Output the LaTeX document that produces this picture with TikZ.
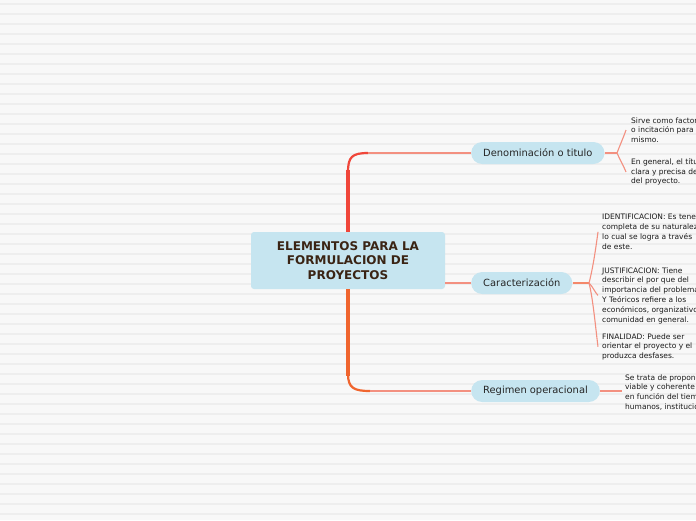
\documentclass[tikz,border=0pt]{standalone}
\usepackage{fontspec}
\setmainfont{DejaVu Sans}
\definecolor{bgcol}{HTML}{F8F8F8}
\definecolor{stripe}{HTML}{EEEEEE}
\definecolor{topicblue}{HTML}{C6E5F0}
\definecolor{trunkred}{HTML}{F0463A}
\definecolor{trunkorange}{HTML}{F0652E}
\definecolor{linkpink}{HTML}{F39080}
\definecolor{forkorange}{HTML}{F4886A}
\definecolor{titlebrown}{HTML}{3A2414}
\begin{document}
\begin{tikzpicture}[x=1pt,y=-1pt,
  topic/.style={fill=topicblue,rounded corners=11pt,minimum height=22pt,inner xsep=12pt,inner ysep=0pt,
    font=\fontsize{9.9}{12}\selectfont,text=black!85,anchor=west},
  leaf/.style={anchor=north west,inner sep=0pt,align=left,font=\fontsize{7.5}{9.8}\selectfont,text=black!90},
  link/.style={draw=linkpink,line width=1.1pt}]
  \useasboundingbox (0,0) rectangle (696,520);
  \fill[bgcol] (0,0) rectangle (696,520);
  \foreach \y in {4,14,...,514}
    \draw[stripe,line width=1.5pt] (0,\y) -- (696,\y);
  \clip (0,0) rectangle (696,520);

  % main topic and subtopics
  \node[fill=topicblue,rounded corners=3pt,minimum width=194pt,minimum height=57pt,align=center,
    text=titlebrown,font=\bfseries\fontsize{12}{14.5}\selectfont] (centre) at (348,260.5)
    {ELEMENTOS PARA LA\\FORMULACION DE\\PROYECTOS};
  \node[topic] (deno) at (471,153) {Denominación o titulo};
  \node[topic] (cara) at (471,283) {Caracterización};
  \node[topic] (regi) at (471,391) {Regimen operacional};

  % notes
  \node[leaf] (dleafa) at (631,117.1) {Sirve como factor\\o incitación para\\mismo.};
  \node[leaf] (dleafb) at (631,158.1) {En general, el título\\clara y precisa de\\del proyecto.};
  \node[leaf] (cleafa) at (602,214.1) {IDENTIFICACION: Es tener\\completa de su naturaleza\\lo cual se logra a través\\de este.};
  \node[leaf] (cleafb) at (602,267.1) {JUSTIFICACION: Tiene\\describir el por que del\\importancia del problema\\Y Teóricos refiere a los\\económicos, organizativos\\comunidad en general.};
  \node[leaf] (cleafc) at (602,333.1) {FINALIDAD: Puede ser\\orientar el proyecto y el\\produzca desfases.};
  \node[leaf] (rleaf) at (625,374.1) {Se trata de proponer\\viable y coherente\\en función del tiempo\\humanos, institucionales};

  % trunk
  \coordinate (ttop) at (348,170);
  \coordinate (tbot) at (348,376);
  \coordinate (dbend) at (368,153);
  \coordinate (rbend) at (370,391);
  \draw[trunkred,line width=3.5pt] (centre.north) -- (ttop);
  \draw[trunkred,line width=2.2pt] ([yshift=-2pt]ttop) .. controls (348,157) and (352,153) .. (dbend);
  \draw[link] (dbend) -- (deno.west);
  \draw[trunkorange,line width=3.5pt] (centre.south) -- (tbot);
  \draw[trunkorange,line width=2.2pt] ([yshift=2pt]tbot) .. controls (348,388) and (354,391) .. (rbend);
  \draw[link] (rbend) -- (regi.west);
  \draw[link] (centre.east |- cara.west) -- (cara.west);

  % forks to the notes
  \coordinate (dfork) at (617,153);
  \coordinate (cfork) at (589,283);
  \draw[link] (deno.east) -- (dfork);
  \draw[link] (dfork) .. controls +(3,-8) and +(-2,6) .. ([xshift=-5pt]dleafa.west);
  \draw[link] (dfork) .. controls +(3,7) and +(-2,-5) .. ([xshift=-5pt]dleafb.west);
  \draw[forkorange,line width=1.6pt] (cara.east) -- (cfork);
  \draw[link] (cfork) .. controls +(4,-15) and +(-2,15) .. ([xshift=-4pt]cleafa.west);
  \draw[link] (cfork) .. controls +(4,4) and +(-3,-3) .. ([xshift=-4pt]cleafb.west);
  \draw[link] (cfork) .. controls +(4,15) and +(-2,-15) .. ([xshift=-4pt]cleafc.west);
  \draw[link] (regi.east) -- ([xshift=-3pt]rleaf.west |- regi.east);
\end{tikzpicture}
\end{document}
